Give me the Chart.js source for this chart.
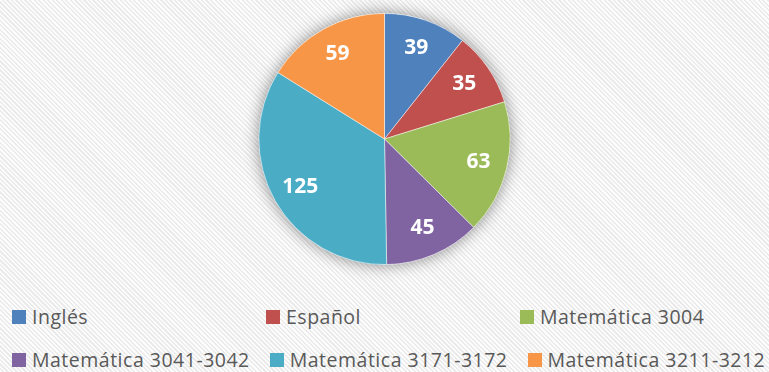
<!DOCTYPE html>
<html lang="es">

<head>
    <meta charset="UTF-8">
    <title>Estudiantes por curso</title>
    <script src="https://cdn.jsdelivr.net/npm/chart.js@4.4.1/dist/chart.umd.min.js"></script>
    <style>
        html, body {
            margin: 0;
            padding: 0;
        }
        body {
            width: 769px;
            height: 372px;
            overflow: hidden;
            position: relative;
            background: repeating-linear-gradient(45deg, #fdfdfd 0 1.6px, #ebebeb 1.6px 3.2px);
        }
        .chart-box {
            position: absolute;
            left: 0;
            top: 0;
            width: 769px;
            height: 282px;
        }
        .legend {
            position: absolute;
            left: 12px;
            top: 302px;
            font-family: "Open Sans", sans-serif;
            font-size: 19.5px;
            letter-spacing: 0.5px;
            color: #595959;
        }
        .legend-row {
            display: flex;
            height: 43px;
        }
        .legend-item {
            display: flex;
            align-items: center;
            min-width: 254px;
            padding-right: 20px;
            box-sizing: border-box;
            height: 28px;
            white-space: nowrap;
        }
        .legend-item span.box {
            width: 14px;
            height: 14px;
            margin-right: 6px;
            margin-top: 1px;
        }
    </style>
</head>

<body>
    <div class="chart-box"><canvas id="pieCursos"></canvas></div>
    <div class="legend" id="legend"></div>

    <script>
        var cursos = ['Inglés', 'Español', 'Matemática 3004', 'Matemática 3041-3042', 'Matemática 3171-3172', 'Matemática 3211-3212'];
        var estudiantes = [39, 35, 63, 45, 125, 59];
        var colores = ['#4f81bd', '#c0504d', '#9bbb59', '#8064a2', '#4bacc6', '#f79646'];

        // soft shadow behind the whole pie
        var sombra = {
            id: 'sombra',
            beforeDatasetsDraw: function(chart) {
                var arc = chart.getDatasetMeta(0).data[0];
                if (!arc) return;
                var ctx = chart.ctx;
                ctx.save();
                ctx.shadowColor = 'rgba(0,0,0,0.45)';
                ctx.shadowBlur = 16;
                ctx.fillStyle = '#ffffff';
                ctx.beginPath();
                ctx.arc(arc.x, arc.y, arc.outerRadius, 0, Math.PI * 2);
                ctx.fill();
                ctx.restore();
            }
        };

        // values written inside each slice
        var etiquetas = {
            id: 'etiquetas',
            afterDatasetsDraw: function(chart) {
                var ctx = chart.ctx;
                var meta = chart.getDatasetMeta(0);
                ctx.save();
                ctx.fillStyle = '#ffffff';
                ctx.font = 'bold 21px "Open Sans", sans-serif';
                ctx.textAlign = 'center';
                ctx.textBaseline = 'middle';
                meta.data.forEach(function(arc, i) {
                    var mid = (arc.startAngle + arc.endAngle) / 2;
                    var d = arc.outerRadius * 0.77;
                    ctx.fillText(String(estudiantes[i]), arc.x + Math.cos(mid) * d, arc.y + Math.sin(mid) * d);
                });
                ctx.restore();
            }
        };

        var ctxPie = document.getElementById('pieCursos').getContext('2d');
        var pieChart = new Chart(ctxPie, {
            type: 'pie',
            data: {
                labels: cursos,
                datasets: [{
                    data: estudiantes,
                    backgroundColor: colores,
                    borderColor: 'rgba(255,255,255,0.6)',
                    borderWidth: 0.8
                }]
            },
            options: {
                responsive: true,
                maintainAspectRatio: false,
                animation: false,
                layout: {
                    padding: { top: 13, bottom: 17 }
                },
                plugins: {
                    legend: { display: false },
                    tooltip: { enabled: false }
                }
            },
            plugins: [sombra, etiquetas]
        });

        // legend in two rows of three
        var legend = document.getElementById('legend');
        for (var r = 0; r < cursos.length; r += 3) {
            var row = document.createElement('div');
            row.className = 'legend-row';
            for (var i = r; i < r + 3 && i < cursos.length; i++) {
                var item = document.createElement('div');
                item.className = 'legend-item';
                item.innerHTML = '<span class="box" style="background:' + colores[i] + '"></span>' + cursos[i];
                row.appendChild(item);
            }
            legend.appendChild(row);
        }
    </script>
</body>

</html>
